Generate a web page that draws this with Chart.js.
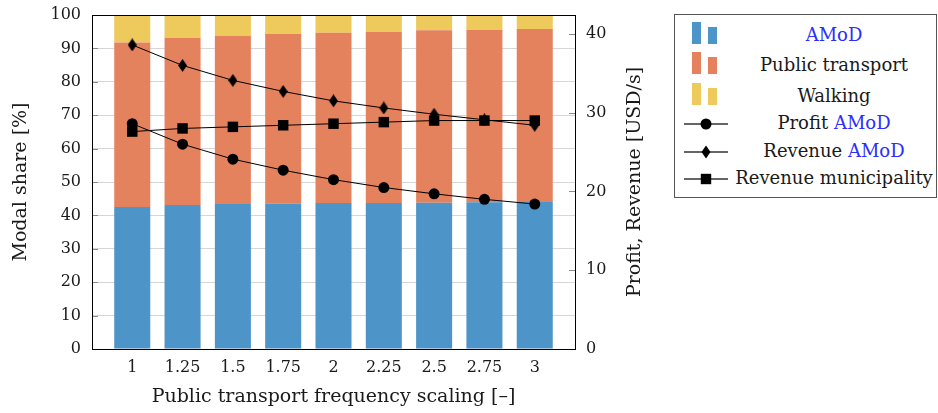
<!DOCTYPE html>
<html>
<head>
<meta charset="utf-8">
<script src="https://cdn.jsdelivr.net/npm/chart.js@4/dist/chart.umd.min.js"></script>
<style>
html,body{margin:0;padding:0;background:#fff;}
#wrap{position:relative;width:938px;height:413px;}
#c{position:absolute;left:0;top:0;}
#legend{position:absolute;left:674px;top:14px;width:263px;height:184px;border:1px solid #555;box-sizing:border-box;font-family:"DejaVu Serif";font-size:18px;color:#1a1a1a;background:#fff;}
.row{position:absolute;left:0;width:100%;height:0;}
.txt{position:absolute;left:56px;width:206px;text-align:center;top:-14px;line-height:26px;white-space:nowrap;}
.link{color:#2d2dff;}
.ico{position:absolute;}
</style>
</head>
<body>
<div id="wrap">
<canvas id="c" width="938" height="413"></canvas>
<div id="legend"></div>
</div>
<script>
// ---- data ----
const categories = [1, 1.25, 1.5, 1.75, 2, 2.25, 2.5, 2.75, 3];
const xTickLabels = ['1', '1.25', '1.5', '1.75', '2', '2.25', '2.5', '2.75', '3'];
const amodShare = [42.5, 43.1, 43.4, 43.5, 43.7, 43.7, 43.8, 43.9, 44.0];
const publicTransportShare = [49.3, 50.0, 50.4, 50.8, 51.0, 51.3, 51.6, 51.7, 51.8];
const walkingShare = [8.2, 6.9, 6.2, 5.7, 5.3, 5.0, 4.6, 4.4, 4.2];
const profitAmod = [28.6, 26.0, 24.1, 22.7, 21.5, 20.5, 19.7, 19.0, 18.4];
const revenueAmod = [38.6, 36.0, 34.1, 32.7, 31.5, 30.6, 29.8, 29.1, 28.4];
const revenueMunicipality = [27.6, 28.0, 28.2, 28.4, 28.6, 28.8, 29.0, 29.0, 29.0];
const leftTicks = [0, 10, 20, 30, 40, 50, 60, 70, 80, 90, 100];
const rightTicks = [0, 10, 20, 30, 40];
const xTitle = 'Public transport frequency scaling [–]';
const yTitle = 'Modal share [%]';
const y2Title = 'Profit, Revenue [USD/s]';

// ---- styles ----
const BLUE = 'rgb(77,148,200)';
const ORANGE = 'rgb(229,130,94)';
const YELLOW = 'rgb(238,201,92)';
const TXT = '#1a1a1a';
const FONT = 'DejaVu Serif';

function diamondImg(w, h) {
  const c = document.createElement('canvas');
  c.width = w; c.height = h;
  const g = c.getContext('2d');
  g.fillStyle = '#000';
  g.beginPath();
  g.moveTo(w / 2, 0); g.lineTo(w, h / 2); g.lineTo(w / 2, h); g.lineTo(0, h / 2);
  g.closePath(); g.fill();
  return c;
}
const DIAMOND = diamondImg(9, 13);

const framePlugin = {
  id: 'frame',
  afterDraw(chart) {
    const {ctx, chartArea: a, scales} = chart;
    ctx.save();
    // inward ticks
    ctx.strokeStyle = '#8a8a8a';
    ctx.lineWidth = 1;
    leftTicks.forEach(v => {
      const y = Math.round(scales.y.getPixelForValue(v)) + 0.5;
      ctx.beginPath(); ctx.moveTo(a.left, y); ctx.lineTo(a.left + 6, y); ctx.stroke();
    });
    rightTicks.forEach(v => {
      const y = Math.round(scales.y2.getPixelForValue(v)) + 0.5;
      ctx.beginPath(); ctx.moveTo(a.right - 6, y); ctx.lineTo(a.right, y); ctx.stroke();
    });
    // frame
    ctx.strokeStyle = '#000';
    ctx.strokeRect(Math.round(a.left) + 0.5, Math.round(a.top) + 0.5,
      Math.round(a.right) - Math.round(a.left), Math.round(a.bottom) - Math.round(a.top));
    // right axis title, reading bottom to top
    ctx.fillStyle = TXT;
    ctx.font = '19px "' + FONT + '"';
    ctx.textAlign = 'center';
    ctx.textBaseline = 'middle';
    ctx.translate(a.right + 60, (a.top + a.bottom) / 2);
    ctx.rotate(-Math.PI / 2);
    ctx.fillText(y2Title, 0, 0);
    ctx.restore();
  }
};

const lineCommon = {
  type: 'line', yAxisID: 'y2', borderColor: '#000', backgroundColor: '#000',
  borderWidth: 1, tension: 0, pointBorderWidth: 0, order: 0, pointHoverRadius: 0
};

new Chart(document.getElementById('c'), {
  type: 'bar',
  data: {
    labels: categories,
    datasets: [
      Object.assign({}, lineCommon, {label: 'Profit AMoD', data: profitAmod, pointStyle: 'circle', pointRadius: 5.5}),
      Object.assign({}, lineCommon, {label: 'Revenue AMoD', data: revenueAmod, pointStyle: DIAMOND, pointRadius: 6}),
      Object.assign({}, lineCommon, {label: 'Revenue municipality', data: revenueMunicipality, pointStyle: 'rect', pointRadius: 7.4}),
      {label: 'AMoD', data: amodShare, backgroundColor: BLUE, yAxisID: 'y', order: 1},
      {label: 'Public transport', data: publicTransportShare, backgroundColor: ORANGE, yAxisID: 'y', order: 1},
      {label: 'Walking', data: walkingShare, backgroundColor: YELLOW, yAxisID: 'y', order: 1}
    ]
  },
  options: {
    responsive: false,
    animation: false,
    devicePixelRatio: 1,
    events: [],
    layout: {padding: {top: 15, left: 0, right: 273, bottom: 0}},
    plugins: {legend: {display: false}, tooltip: {enabled: false}},
    datasets: {bar: {barPercentage: 0.716, categoryPercentage: 1}},
    scales: {
      x: {
        type: 'linear', stacked: true, offset: false, min: 0.8, max: 3.2,
        grid: {display: false, drawTicks: false, offset: false},
        border: {display: false},
        afterBuildTicks: s => { s.ticks = categories.map(v => ({value: v})); },
        afterFit: s => { s.height = 64; s.paddingLeft = 0; s.paddingRight = 0; },
        ticks: {
          padding: 9, autoSkip: false, maxRotation: 0, color: TXT,
          font: {family: FONT, size: 16},
          callback: v => xTickLabels[categories.indexOf(v)]
        },
        title: {display: true, text: xTitle, color: TXT, font: {family: FONT, size: 19}, padding: {top: 0, bottom: 5}}
      },
      y: {
        position: 'left', stacked: true, min: 0, max: 100,
        grid: {color: '#d6d6d6', drawTicks: false},
        border: {display: false},
        afterBuildTicks: s => { s.ticks = leftTicks.map(v => ({value: v})); },
        afterFit: s => { s.width = 92; s.paddingTop = 0; s.paddingBottom = 0; },
        ticks: {padding: 11, color: TXT, font: {family: FONT, size: 16}},
        title: {display: true, text: yTitle, color: TXT, font: {family: FONT, size: 19}, padding: {top: 10, bottom: 0}}
      },
      y2: {
        position: 'right', min: 0, max: 42.4,
        grid: {drawOnChartArea: false, drawTicks: false},
        border: {display: false},
        afterBuildTicks: s => { s.ticks = rightTicks.map(v => ({value: v})); },
        afterFit: s => { s.width = 90; s.paddingTop = 0; s.paddingBottom = 0; },
        ticks: {padding: 11, color: TXT, font: {family: FONT, size: 16}},
        title: {display: false, text: y2Title}
      }
    }
  },
  plugins: [framePlugin]
});

// ---- legend (HTML) ----
const legendItems = [
  {kind: 'bar', color: BLUE, parts: [['AMoD', true]], y: 21},
  {kind: 'bar', color: ORANGE, parts: [['Public transport', false]], y: 51},
  {kind: 'bar', color: YELLOW, parts: [['Walking', false]], y: 82},
  {kind: 'line', marker: 'circle', parts: [['Profit ', false], ['AMoD', true]], y: 109},
  {kind: 'line', marker: 'diamond', parts: [['Revenue ', false], ['AMoD', true]], y: 137},
  {kind: 'line', marker: 'square', parts: [['Revenue municipality', false]], y: 164}
];
const lg = document.getElementById('legend');
legendItems.forEach(it => {
  const row = document.createElement('div');
  row.className = 'row';
  row.style.top = it.y + 'px';
  let ico = '';
  if (it.kind === 'bar') {
    ico = '<div class="ico" style="left:17px;top:-14px;width:9px;height:22px;background:' + it.color + '"></div>' +
          '<div class="ico" style="left:33px;top:-9px;width:9px;height:17px;background:' + it.color + '"></div>';
  } else {
    let m = '';
    if (it.marker === 'circle') m = '<circle cx="22" cy="7" r="5.5" fill="#000"/>';
    if (it.marker === 'diamond') m = '<polygon points="22,0.5 26.5,7 22,13.5 17.5,7" fill="#000"/>';
    if (it.marker === 'square') m = '<rect x="16.8" y="1.8" width="10.4" height="10.4" fill="#000"/>';
    ico = '<svg class="ico" style="left:9px;top:-7px" width="44" height="14"><line x1="0" y1="7" x2="44" y2="7" stroke="#333" stroke-width="1.3"/>' + m + '</svg>';
  }
  const txt = it.parts.map(p => p[1] ? '<span class="link">' + p[0] + '</span>' : p[0].replace(/ $/, '&nbsp;')).join('');
  row.innerHTML = ico + '<div class="txt">' + txt + '</div>';
  lg.appendChild(row);
});
</script>
</body>
</html>
